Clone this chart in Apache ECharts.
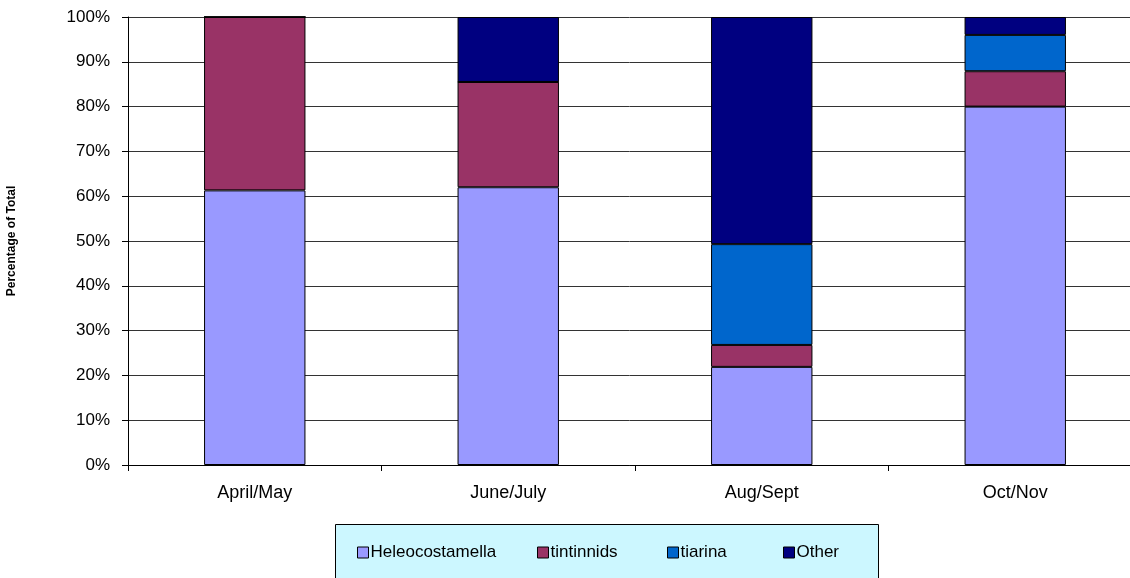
<!DOCTYPE html>
<html>
<head>
<meta charset="utf-8">
<script src="https://cdn.jsdelivr.net/npm/echarts@6/dist/echarts.min.js"></script>
<style>
  html, body { margin: 0; padding: 0; background: #fff; }
  #chart { width: 1130px; height: 578px; }
</style>
</head>
<body>
<div id="chart"></div>
<script>
// Sampling periods
const periods = ['April/May', 'June/July', 'Aug/Sept', 'Oct/Nov'];

// Share of total (%) per group and period
const heleocostamella = [61.3, 62.0, 21.9, 80.0];
const tintinnids      = [38.7, 23.5, 4.9, 7.9];
const tiarina         = [0, 0, 22.5, 8.1];
const other           = [0, 14.5, 50.7, 4.0];

const seriesNames = ['Heleocostamella', 'tintinnids', 'tiarina', 'Other'];
const seriesColors = ['#9999FF', '#993366', '#0066CC', '#000080'];
const seriesData = [heleocostamella, tintinnids, tiarina, other];

// left edge of each legend entry inside the key box
const legendLefts = [357, 537, 667, 783];

const chart = echarts.init(document.getElementById('chart'), null, { renderer: 'canvas' });

const font = 'Liberation Sans, Arial, sans-serif';

const legends = seriesNames.map((name, i) => ({
  data: [{ name: name, icon: 'rect' }],
  left: legendLefts[i],
  top: 544,
  padding: 0,
  itemWidth: 11,
  itemHeight: 11,
  itemGap: 0,
  selectedMode: false,
  textStyle: { fontFamily: font, fontSize: 17, color: '#000', padding: [0, 0, 0, -3] },
  itemStyle: { borderColor: '#000', borderWidth: 1 }
}));

chart.setOption({
  animation: false,
  backgroundColor: '#ffffff',
  color: seriesColors,
  textStyle: { fontFamily: font },
  // plot area runs slightly past the right edge of the canvas
  grid: { left: 128, width: 1014, top: 17, bottom: 113, containLabel: false, outerBoundsMode: 'none' },
  graphic: [{
    type: 'rect',
    z: -1,
    shape: { x: 335.5, y: 524.5, width: 543, height: 60 },
    style: { fill: '#CCF7FF', stroke: '#000', lineWidth: 1 }
  }],
  legend: legends,
  xAxis: {
    type: 'category',
    data: periods,
    axisLine: { lineStyle: { color: '#000', width: 1 } },
    axisTick: { show: true, length: 6, lineStyle: { color: '#000' } },
    axisLabel: { color: '#000', fontSize: 18, fontFamily: font, margin: 19 },
    splitLine: { show: false }
  },
  yAxis: {
    type: 'value',
    min: 0,
    max: 100,
    interval: 10,
    name: 'Percentage of Total',
    nameLocation: 'middle',
    nameGap: 110,
    nameRotate: 90,
    nameTextStyle: { fontFamily: font, fontSize: 12, fontWeight: 'bold', color: '#000' },
    axisLine: { show: true, lineStyle: { color: '#000', width: 1 } },
    axisTick: { show: true, length: 6, lineStyle: { color: '#000' } },
    axisLabel: { color: '#000', fontSize: 17, fontFamily: font, margin: 18, formatter: '{value}%' },
    splitLine: { show: true, lineStyle: { color: '#333', width: 1 } }
  },
  series: seriesNames.map((name, i) => ({
    name: name,
    type: 'bar',
    stack: 'total',
    barWidth: '40%',
    data: seriesData[i],
    itemStyle: { color: seriesColors[i], borderColor: '#000', borderWidth: 1 },
    emphasis: { disabled: true }
  }))
});
</script>
</body>
</html>
